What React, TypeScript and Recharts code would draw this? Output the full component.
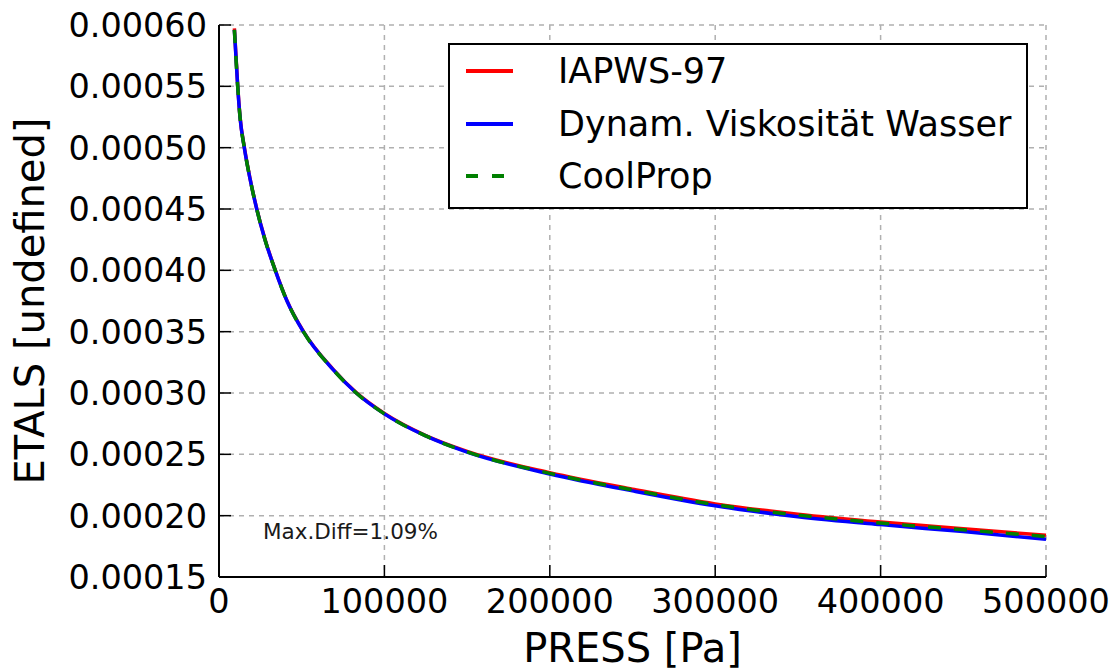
import React from 'react';
import { LineChart, Line, XAxis, YAxis, CartesianGrid, Legend, ReferenceDot } from 'recharts';

// pressure [Pa]
const press = [9300, 11300, 12700, 15300, 18700, 22800, 27800, 34000, 41100, 51000, 69000, 83000, 100000, 125000, 150000, 200000, 250000, 300000, 350000, 400000, 450000, 500000];

// viscosity values
const iapws97 = [0.0005972, 0.0005505, 0.0005252, 0.0005005, 0.0004753, 0.0004503, 0.0004253, 0.0004003, 0.0003753, 0.0003503, 0.0003193, 0.0003003, 0.0002833, 0.0002653, 0.0002524, 0.0002350, 0.0002216, 0.0002096, 0.0002012, 0.0001948, 0.0001894, 0.0001840];
const dynamVisk = [0.000596, 0.00055, 0.000525, 0.0005, 0.000475, 0.00045, 0.000425, 0.0004, 0.000375, 0.00035, 0.000319, 0.0003, 0.000283, 0.000265, 0.0002518, 0.0002340, 0.0002202, 0.0002080, 0.0001992, 0.0001927, 0.0001870, 0.0001808];
const coolProp = [0.000596, 0.00055, 0.000525, 0.0005, 0.000475, 0.00045, 0.000425, 0.0004, 0.000375, 0.00035, 0.000319, 0.0003, 0.000283, 0.000265, 0.000252, 0.0002345, 0.000221, 0.000209, 0.0002005, 0.000194, 0.0001885, 0.000183];

const xTicks = [0, 100000, 200000, 300000, 400000, 500000];
const yTicks = [0.00015, 0.0002, 0.00025, 0.0003, 0.00035, 0.0004, 0.00045, 0.0005, 0.00055, 0.0006];

const seriesInfo = [
  { key: 'iapws', name: 'IAPWS-97', color: '#ff0000', dash: undefined },
  { key: 'dynam', name: 'Dynam. Viskosität Wasser', color: '#0000ff', dash: undefined },
  { key: 'cool', name: 'CoolProp', color: '#008000', dash: '13 13' },
];

const data = press.map((p, i) => ({ p, iapws: iapws97[i], dynam: dynamVisk[i], cool: coolProp[i] }));

const FONT = 'DejaVu Sans, Verdana, sans-serif';
const TICK_LEN = 12;

const LeftTick = ({ x, y, payload }: any) => (
  <g>
    <line x1={x} x2={x + TICK_LEN} y1={y} y2={y} stroke="#000" strokeWidth={1.5} />
    <text x={x - 12} y={y} dy="0.36em" textAnchor="end" fontSize={33.5} fontFamily={FONT} fill="#000">
      {Number(payload.value).toFixed(5)}
    </text>
  </g>
);

const RightTick = ({ x, y }: any) => (
  <line x1={x - TICK_LEN} x2={x} y1={y} y2={y} stroke="#000" strokeWidth={1.5} />
);

const BottomTick = ({ x, y, payload }: any) => (
  <g>
    <line x1={x} x2={x} y1={y - TICK_LEN} y2={y} stroke="#000" strokeWidth={1.5} />
    <text x={x} y={y + 36} textAnchor="middle" fontSize={33.5} fontFamily={FONT} fill="#000">
      {payload.value}
    </text>
  </g>
);

const TopTick = ({ x, y }: any) => (
  <line x1={x} x2={x} y1={y} y2={y + TICK_LEN} stroke="#000" strokeWidth={1.5} />
);

const LegendBox = () => (
  <div style={{ width: 576, height: 162, border: '2px solid #000', background: '#fff', fontFamily: FONT, fontSize: 35 }}>
    {seriesInfo.map((s, i) => (
      <div key={s.key} style={{ position: 'absolute', left: 0, top: 28 + i * 52.5 - 20, height: 40, display: 'flex', alignItems: 'center' }}>
        <svg width={110} height={40}>
          <line x1={18} x2={65} y1={20} y2={20} stroke={s.color} strokeWidth={4} strokeDasharray={s.dash ? '12 14' : undefined} />
        </svg>
        <span style={{ lineHeight: '40px', color: '#000' }}>{s.name}</span>
      </div>
    ))}
  </div>
);

const DiffLabel = ({ viewBox }: any) => (
  <text x={viewBox.x} y={viewBox.y} fontSize={21.5} fontFamily={FONT} fill="#1a1a1a">
    Max.Diff=1.09%
  </text>
);

export default function App() {
  return (
    <div style={{ position: 'absolute', left: 0, top: 0, width: 1114, height: 672, background: '#fff' }}>
      <LineChart width={1114} height={672} data={data} margin={{ top: 25, right: 68, left: 0, bottom: 0 }}>
        <CartesianGrid xAxisId="bottom" yAxisId="left" stroke="#b0b0b0" strokeWidth={1.5} strokeDasharray="5 5" />
        <XAxis
          xAxisId="bottom"
          dataKey="p"
          type="number"
          domain={[0, 500000]}
          ticks={xTicks}
          height={95}
          tickSize={0}
          tickMargin={0}
          tick={<BottomTick />}
          axisLine={{ stroke: '#000', strokeWidth: 2 }}
          tickLine={false}
          interval={0}
          label={{ value: 'PRESS [Pa]', position: 'insideBottom', offset: 10, fontSize: 40, fontFamily: FONT, fill: '#000' }}
        />
        <XAxis
          xAxisId="top"
          orientation="top"
          dataKey="p"
          type="number"
          domain={[0, 500000]}
          ticks={xTicks}
          height={0}
          tickSize={0}
          tick={<TopTick />}
          axisLine={{ stroke: '#000', strokeWidth: 2 }}
          tickLine={false}
          interval={0}
        />
        <YAxis
          yAxisId="left"
          type="number"
          domain={[0.00015, 0.0006]}
          ticks={yTicks}
          width={219}
          tickSize={0}
          tickMargin={0}
          tick={<LeftTick />}
          axisLine={{ stroke: '#000', strokeWidth: 2 }}
          tickLine={false}
          interval={0}
          label={{ value: 'ETALS [undefined]', angle: -90, position: 'insideLeft', offset: 30, fontSize: 40, fontFamily: FONT, fill: '#000', style: { textAnchor: 'middle' } }}
        />
        <YAxis
          yAxisId="right"
          orientation="right"
          type="number"
          domain={[0.00015, 0.0006]}
          ticks={yTicks}
          width={0}
          tickSize={0}
          tick={<RightTick />}
          axisLine={{ stroke: '#000', strokeWidth: 2 }}
          tickLine={false}
          interval={0}
        />
        {seriesInfo.map((s) => (
          <Line
            key={s.key}
            xAxisId="bottom"
            yAxisId="left"
            type="monotone"
            dataKey={s.key}
            name={s.name}
            stroke={s.color}
            strokeWidth={3.5}
            strokeDasharray={s.dash}
            dot={false}
            activeDot={false}
            isAnimationActive={false}
          />
        ))}
        <ReferenceDot xAxisId="bottom" yAxisId="left" x={26600} y={0.000181} r={0} fill="none" stroke="none" label={<DiffLabel />} />
        <Legend
          layout="vertical"
          align="center"
          verticalAlign="middle"
          content={<LegendBox />}
          wrapperStyle={{ left: 448, top: 43, width: 580, height: 166 }}
        />
      </LineChart>
    </div>
  );
}
